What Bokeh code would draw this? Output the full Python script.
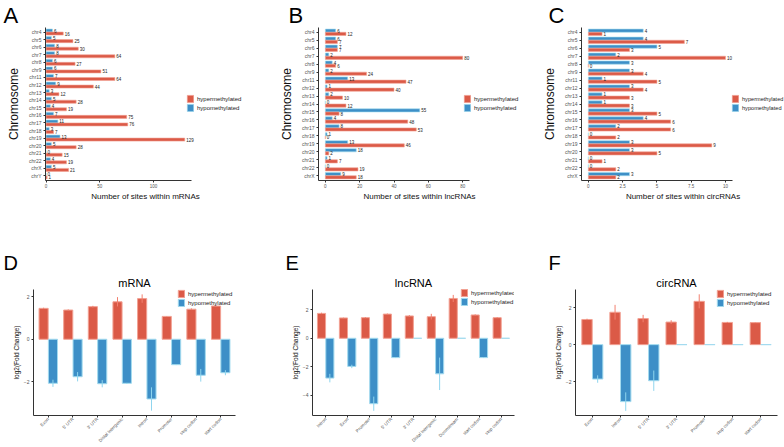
from bokeh.plotting import figure
from bokeh.models import (ColumnDataSource, FactorRange, Range1d, Legend, LegendItem,
                          Title, FixedTicker)
from bokeh.transform import dodge
from bokeh.layouts import row, column
from bokeh.embed import file_html
from bokeh.resources import INLINE
from bokeh.core.properties import value

# ---------------- data ----------------
chroms_A = ["chr4", "chr5", "chr6", "chr7", "chr8", "chr9", "chr11", "chr12", "chr13", "chr14",
            "chr15", "chr16", "chr17", "chr18", "chr19", "chr20", "chr21", "chr22", "chrX", "chrY"]
hyper_A = [16, 25, 30, 64, 27, 51, 64, 44, 12, 28, 19, 75, 76, 7, 129, 28, 15, 19, 21, 1]
hypo_A = [6, 5, 8, 8, 6, 6, 7, 9, 3, 5, 4, 7, 11, 3, 13, 5, 0, 4, 5, 0]

chroms_BC = ["chr4", "chr5", "chr6", "chr7", "chr8", "chr9", "chr11", "chr12", "chr13", "chr14",
             "chr15", "chr16", "chr17", "chr18", "chr19", "chr20", "chr21", "chr22", "chrX"]
hyper_B = [12, 7, 7, 80, 6, 24, 47, 40, 10, 12, 8, 48, 53, 0, 46, 2, 7, 19, 18]
hypo_B = [6, 6, 7, 2, 4, 2, 13, 1, 2, 0, 55, 4, 8, 1, 13, 18, 1, 0, 9]

hyper_C = [1, 7, 3, 10, 0, 4, 5, 4, 3, 3, 5, 6, 6, 2, 9, 5, 1, 2, 2]
hypo_C = [4, 4, 5, 2, 3, 3, 1, 3, 1, 1, 3, 4, 2, 0, 3, 3, 0, 0, 3]

cats_D = ["Exon", "5' UTR", "3' UTR", "Distal Intergenic", "Intron", "Promoter", "stop codon", "start codon"]
hyper_D = [1.46, 1.38, 1.54, 1.77, 1.92, 1.08, 1.42, 1.57]
hyper_err_D = [0.03, 0.03, 0.04, 0.22, 0.20, 0.01, 0.04, 0.03]
hypo_D = [-2.08, -1.77, -2.10, -2.08, -2.82, -1.20, -1.70, -1.58]
hypo_err_D = [0.17, 0.22, 0.17, 0.02, 0.55, 0.02, 0.30, 0.12]

cats_E = ["Intron", "Exon", "Promoter", "5' UTR", "3' UTR", "Distal Intergenic", "Downstream",
          "start codon", "stop codon"]
hyper_E = [1.75, 1.43, 1.45, 1.70, 1.57, 1.52, 2.80, 1.64, 1.45]
hyper_err_E = [0.05, 0.02, 0.03, 0.04, 0.06, 0.20, 0.25, 0.04, 0.03]
hypo_E = [-2.80, -1.98, -4.60, -1.36, 0, -2.50, 0, -1.36, 0]
hypo_err_E = [0.30, 0.12, 0.50, 0.03, 0, 1.14, 0, 0.03, 0]

cats_F = ["Exon", "Intron", "5' UTR", "3' UTR", "Promoter", "stop codon", "start codon"]
hyper_F = [1.36, 1.75, 1.41, 1.22, 2.34, 1.20, 1.19]
hyper_err_F = [0.04, 0.40, 0.20, 0.10, 0.38, 0.03, 0.01]
hypo_F = [-1.86, -3.08, -1.95, 0, 0, 0, 0]
hypo_err_F = [0.20, 0.50, 0.55, 0, 0, 0, 0]

# ---------------- style ----------------
RED = "#DB5A47"
RED_EDGE = "#F2A193"
BLUE = "#3D8FC7"
BLUE_EDGE = "#A3DBEF"
RED_ERR = "#F2806F"
BLUE_ERR = "#8FD5EE"
FONT = "Liberation Sans"
AXC = "#333333"
TXC = "#555555"


def style_axes(p):
    p.outline_line_color = None
    p.xgrid.grid_line_color = None
    p.ygrid.grid_line_color = None
    p.background_fill_color = "white"
    p.border_fill_color = "white"
    for ax in (p.xaxis[0], p.yaxis[0]):
        ax.axis_line_color = AXC
        ax.axis_line_width = 1
        ax.major_tick_line_color = AXC
        ax.major_tick_out = 2
        ax.major_tick_in = 0
        ax.minor_tick_line_color = None
        ax.major_label_text_color = TXC
        ax.major_label_text_font = FONT
        ax.major_label_standoff = 2
        ax.axis_label_text_font = FONT
        ax.axis_label_text_font_style = "normal"
        ax.axis_label_text_color = "#111111"


def style_title(t, size, align, offset, standoff):
    t.text_font = FONT
    t.text_font_size = size
    t.text_font_style = "normal"
    t.text_color = "black"
    t.align = align
    t.offset = offset
    t.standoff = standoff


def make_legend(r_hyper, r_hypo, loc, gh, fs):
    return Legend(items=[LegendItem(label="hypermethylated", renderers=[r_hyper]),
                         LegendItem(label="hypomethylated", renderers=[r_hypo])],
                  location=loc, orientation="vertical", glyph_width=8, glyph_height=gh,
                  label_height=gh, label_width=10, spacing=0, padding=0, margin=0,
                  border_line_color=None, background_fill_alpha=0,
                  label_text_font_size=fs, label_text_font=FONT, label_standoff=3,
                  label_text_color="#222222")


TOP_H = 230
TOP_T = 27
TOP_B = 50


def chrom_panel(let, chroms, hyper, hypo, xr, xbounds, ticks, xlabel, width, ml, mr,
                let_x, leg_x, leg_fs):
    yr = FactorRange(factors=list(reversed(chroms)), range_padding=0.1,
                     range_padding_units="absolute")
    p = figure(width=width, height=TOP_H, y_range=yr, x_range=Range1d(*xr),
               output_backend="svg", toolbar_location=None, title=let,
               min_border_left=ml, min_border_right=mr, min_border_top=TOP_T,
               min_border_bottom=TOP_B)
    style_title(p.title, "22px", "left", let_x, 0)
    src = ColumnDataSource(dict(chrom=chroms, hyper=hyper, hypo=hypo,
                                hyper_s=[str(v) for v in hyper], hypo_s=[str(v) for v in hypo]))
    r_hypo = p.hbar(y=dodge("chrom", 0.2, range=yr), left=0, right="hypo", height=0.4,
                    fill_color=BLUE, line_color=BLUE_EDGE, line_width=0.6, source=src)
    r_hyper = p.hbar(y=dodge("chrom", -0.2, range=yr), left=0, right="hyper", height=0.4,
                     fill_color=RED, line_color=RED_EDGE, line_width=0.6, source=src)
    p.text(x="hypo", y=dodge("chrom", 0.2, range=yr), text="hypo_s", x_offset=1.5,
           text_font_size="4.5px", text_baseline="middle", text_color="#222222",
           text_font=value(FONT), source=src)
    p.text(x="hyper", y=dodge("chrom", -0.2, range=yr), text="hyper_s", x_offset=1.5,
           text_font_size="4.5px", text_baseline="middle", text_color="#222222",
           text_font=value(FONT), source=src)
    style_axes(p)
    p.xaxis.bounds = xbounds
    p.xaxis.ticker = FixedTicker(ticks=ticks)
    p.xaxis.major_label_text_font_size = "4.5px"
    p.xaxis.major_label_standoff = 1
    p.yaxis.major_label_text_font_size = "5px"
    p.xaxis.axis_label = xlabel
    p.yaxis.axis_label = "Chromosome"
    p.xaxis.axis_label_text_font_size = "8px"
    p.yaxis.axis_label_text_font_size = "12px"
    p.xaxis.axis_label_standoff = 1
    p.yaxis.axis_label_standoff = 5
    p.add_layout(make_legend(r_hyper, r_hypo, (leg_x, 68), 9, leg_fs))
    return p


BOT_H = 447 - TOP_H   # 217
BOT_B = 29


def region_panel(let, title, cats, hyper, hyper_err, hypo, hypo_err, yr, yticks,
                 width, ml, mr, mt, leg_x, let_x):
    fh = BOT_H - mt - BOT_B
    xr = FactorRange(factors=cats, range_padding=0.1, range_padding_units="absolute")
    p = figure(width=width, height=BOT_H, x_range=xr, y_range=Range1d(*yr),
               output_backend="svg", toolbar_location=None, title=let,
               min_border_left=ml, min_border_right=mr, min_border_top=mt,
               min_border_bottom=BOT_B)
    style_title(p.title, "20px", "left", let_x, 0)
    t = Title(text=title)
    style_title(t, "11px", "center", 0, 2)
    p.add_layout(t, "above")
    src = ColumnDataSource(dict(
        cat=cats, hyper=hyper, hypo=hypo,
        hyper_lo=[v - e for v, e in zip(hyper, hyper_err)],
        hyper_hi=[v + e for v, e in zip(hyper, hyper_err)],
        hypo_lo=[v - e for v, e in zip(hypo, hypo_err)],
        hypo_hi=[v + e for v, e in zip(hypo, hypo_err)]))
    r_hyper = p.vbar(x=dodge("cat", -0.19, range=xr), bottom=0, top="hyper", width=0.37,
                     fill_color=RED, line_color=RED_EDGE, line_width=1, source=src)
    r_hypo = p.vbar(x=dodge("cat", 0.19, range=xr), bottom=0, top="hypo", width=0.37,
                    fill_color=BLUE, line_color=BLUE_EDGE, line_width=1, source=src)
    p.segment(x0=dodge("cat", -0.19, range=xr), x1=dodge("cat", -0.19, range=xr),
              y0="hyper_lo", y1="hyper_hi", line_color=RED_ERR, line_width=1, source=src)
    p.segment(x0=dodge("cat", 0.19, range=xr), x1=dodge("cat", 0.19, range=xr),
              y0="hypo_lo", y1="hypo_hi", line_color=BLUE_ERR, line_width=1, source=src)
    style_axes(p)
    p.yaxis.ticker = FixedTicker(ticks=yticks)
    p.yaxis.major_label_text_font_size = "5px"
    p.xaxis.major_label_text_font_size = "4.5px"
    p.xaxis.major_label_standoff = 1
    p.xaxis.major_label_orientation = 0.785
    p.yaxis.axis_label = "log2(Fold Change)"
    p.yaxis.axis_label_text_font_size = "6.5px"
    p.yaxis.axis_label_standoff = 1
    p.add_layout(make_legend(r_hyper, r_hypo, (leg_x, fh - 21), 9, "6px"))
    return p


pA = chrom_panel("A", chroms_A, hyper_A, hypo_A, (-0.5, 185.5), (-0.5, 135.5), [0, 50, 100],
                 "Number of sites within mRNAs", 275, 45, 30, -42, 141, "6px")
pB = chrom_panel("B", chroms_BC, hyper_B, hypo_B, (-4, 113.7), (-4, 84), [0, 20, 40, 60, 80],
                 "Number of sites within lncRNAs", 260, 43, 15, -30, 145, "6px")
pC = chrom_panel("C", chroms_BC, hyper_C, hypo_C, (-0.5, 14.3), (-0.5, 10.5), [0, 2.5, 5, 7.5, 10],
                 "Number of sites within circRNAs", 249, 46, 0, -33, 150, "5.6px")

pD = region_panel("D", "mRNA", cats_D, hyper_D, hyper_err_D, hypo_D, hypo_err_D,
                  (-3.6, 2.35), [-2, 0, 2], 262, 33, 27, 59, 144, -30)
pE = region_panel("E", "lncRNA", cats_E, hyper_E, hyper_err_E, hypo_E, hypo_err_E,
                  (-5.43, 3.43), [-4, -2, 0, 2], 266, 50, 14, 58, 148, -27)
pF = region_panel("F", "circRNA", cats_F, hyper_F, hyper_err_F, hypo_F, hypo_err_F,
                  (-3.83, 2.98), [-2, 0, 2], 256, 47, 7, 59, 141, -27)

layout = column(row(pA, pB, pC), row(pD, pE, pF))

open("out.html", "w").write(file_html(layout, INLINE))
